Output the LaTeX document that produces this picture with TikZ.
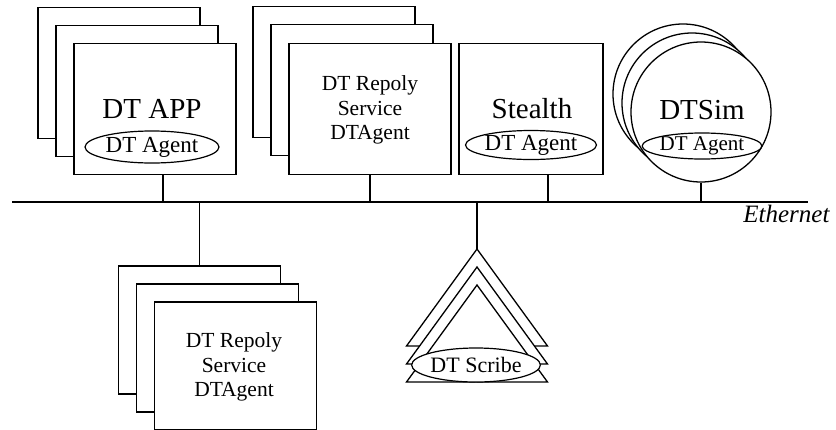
\documentclass[tikz,border=0pt]{standalone}
\usepackage{fontspec}
\setmainfont{Liberation Serif}
\usetikzlibrary{shapes.geometric}
\tikzset{
  box/.style={draw, line width=1.3pt, fill=white, rectangle, inner sep=0pt},
  blk/.style={box, minimum width=162pt, minimum height=131pt},
  lowblk/.style={box, minimum width=162pt, minimum height=128pt},
  simc/.style={draw, line width=1.3pt, fill=white, circle, minimum size=140pt, inner sep=0pt},
  agent/.style={draw, ellipse, line width=1.2pt, fill=white, inner sep=0pt},
  bigtxt/.style={font=\fontsize{29}{32}\selectfont},
  midtxt/.style={font=\fontsize{21.5}{24.5}\selectfont, align=center},
  wire/.style={line width=1.3pt},
  tri/.style={draw, line width=1.3pt, fill=white, line join=miter}
}
\begin{document}
\begin{tikzpicture}[x=1pt,y=-1pt]
\useasboundingbox (0,0) rectangle (836,429);
\clip (0,0) rectangle (836,429);

% Ethernet
\coordinate (ethL) at (12,202);
\coordinate (ethR) at (808,202);
\draw[line width=2.8pt] (ethL) -- (ethR);
\node[anchor=east, font=\fontsize{25}{27}\selectfont\itshape] (ethlbl) at (833,214) {Ethernet};

% DT APP stack
\node[blk] (app1) at (119,73) {};
\node[blk] (app2) at (137,91) {};
\node[blk] (app3) at (155,109) {};
\node[bigtxt] (applbl) at (152,109) {DT APP};
\node[agent, minimum width=134pt, minimum height=32pt, font=\fontsize{23}{25}\selectfont] (appag) at (152,147) {DT Agent};
\draw[wire] ([xshift=8pt]app3.south) -- ([xshift=8pt]app3.south |- ethL);

% DT Repoly top stack
\node[blk] (rep1) at (334,72) {};
\node[blk] (rep2) at (352,90) {};
\node[blk] (rep3) at (370,109) {};
\node[midtxt] (replbl) at (370,110) {DT Repoly\\Service\\DTAgent};
\draw[wire] (rep3.south) -- (rep3.south |- ethL);

% Stealth
\node[box, minimum width=144pt, minimum height=131pt] (st) at (531,109) {};
\node[bigtxt] (stlbl) at (532,109) {Stealth};
\node[agent, minimum width=124pt, minimum height=29pt, font=\fontsize{23}{25}\selectfont] (stag) at (531,145) {DT Agent};
\draw[wire] ([xshift=17pt]st.south) -- ([xshift=17pt]st.south |- ethL);

% DTSim
\node[simc] (sim1) at (683,94) {};
\node[simc] (sim2) at (692,103) {};
\node[simc] (sim3) at (701,112) {};
\node[bigtxt] (simlbl) at (702,110) {DTSim};
\node[agent, minimum width=108pt, minimum height=26pt, font=\fontsize{21}{23}\selectfont] (simag) at (702,146) {DT Agent};
\draw[wire] (sim3.south) -- (sim3.south |- ethL);

% Lower DT Repoly stack
\node[lowblk] (low1) at (199.5,330) {};
\node[lowblk] (low2) at (217.5,348) {};
\node[lowblk] (low3) at (235.5,366) {};
\node[midtxt] (lowlbl) at (234,367) {DT Repoly\\Service\\DTAgent};
\draw[wire] (low1.north |- ethL) -- (low1.north);

% DT Scribe triangles
\coordinate (s1) at (477,249);
\coordinate (s2) at (477,267);
\coordinate (s3) at (477,285);
\draw[tri] (s1) -- ++(70.5,97) -- ++(-141,0) -- cycle;
\draw[tri] (s2) -- ++(70.5,97) -- ++(-141,0) -- cycle;
\draw[tri] (s3) -- ++(70.5,97) -- ++(-141,0) -- cycle;
\node[agent, minimum width=108pt, minimum height=34pt, font=\fontsize{22}{24}\selectfont] (scribe) at (476,365) {DT Scribe};
\draw[wire] (s1 |- ethL) -- (s1);
\end{tikzpicture}
\end{document}
